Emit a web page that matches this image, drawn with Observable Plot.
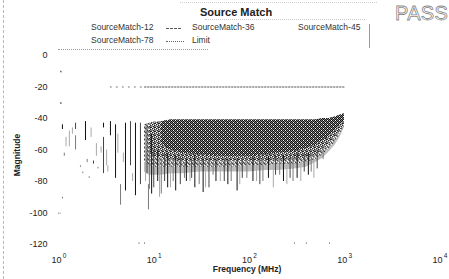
<!DOCTYPE html>
<html><head><meta charset="utf-8">
<script src="https://cdn.jsdelivr.net/npm/d3@7"></script>
<script src="https://cdn.jsdelivr.net/npm/@observablehq/plot@0.6"></script>
<style>
html,body{margin:0;padding:0;background:#fff;}
#wrap{position:relative;width:449px;height:279px;overflow:hidden;font-family:"Liberation Sans",Arial,sans-serif;color:#222;}
#wrap svg{position:absolute;left:0;top:0;}
.t{position:absolute;white-space:nowrap;line-height:1;}
#title{left:200px;top:7px;font-size:11px;font-weight:bold;}
#pass{left:395px;top:3px;font-size:20px;color:#fff;-webkit-text-stroke:0.8px #8a8a8a;letter-spacing:0.3px;}
.lg{font-size:8.5px;color:#333;}
#ylab{left:17px;top:155px;font-size:8.5px;font-weight:bold;transform:translate(-50%,-50%) rotate(-90deg);transform-origin:center;}
#xlab{left:247px;top:265px;font-size:8.5px;font-weight:bold;transform:translateX(-50%);}
.ln{position:absolute;height:0;width:0;}
</style></head>
<body><div id="wrap">
<div class="ln" style="left:3px;top:0;height:279px;border-left:1px dashed #b8b8b8;"></div>
<div class="ln" style="left:180px;top:2px;width:197px;border-top:1px dotted #d0d0d0;"></div>
<div class="ln" style="left:205px;top:19px;width:160px;border-top:1px dotted #c8c8c8;"></div>
<div class="ln" style="left:58px;top:49px;width:150px;border-top:1px dotted #999;"></div>
<div class="ln" style="left:369px;top:24px;height:24px;border-left:1px solid #9a9a9a;"></div>
<div class="t" id="title">Source Match</div>
<div class="t" id="pass">PASS</div>
<div class="t lg" style="left:91px;top:23px;">SourceMatch-12</div>
<div class="ln" style="left:166px;top:28px;width:15px;border-top:1px dashed #555;"></div>
<div class="t lg" style="left:192px;top:23px;">SourceMatch-36</div>
<div class="t lg" style="left:298px;top:23px;">SourceMatch-45</div>
<div class="t lg" style="left:91px;top:36px;">SourceMatch-78</div>
<div class="ln" style="left:166px;top:41px;width:18px;border-top:1px dotted #666;"></div>
<div class="t lg" style="left:192px;top:36px;">Limit</div>
<div class="t" id="ylab">Magnitude</div>
<div class="t" id="xlab">Frequency (MHz)</div>
</div>
<script>
const seriesNames = ["SourceMatch-12","SourceMatch-36","SourceMatch-45","SourceMatch-78"];
const yTicks = [0,-20,-40,-60,-80,-100,-120];
const xExponents = [0,1,2,3,4];

const freq   = [8,9,10,12,15,20,30,50,70,100,150,200,300,400,500,600,700,800,900,1000];
const sm12Hi = [null,null,null,-42,-41,-41,-41,-41,-41,-41,-41,-41,-41,-41,-41,-40,-40,-39,-38,-37];
const sm12Lo = [null,null,null,-56,-60,-62,-63,-64,-64,-64,-63,-62,-61,-59,-57,-54,-51,-48,-44,-42];
const sm36Hi = [null,-44,-43,-42,-41,-41,-41,-41,-41,-41,-41,-41,-41,-41,-41,-40,-40,-39,-38,-37];
const sm36Lo = [null,-62,-64,-65,-66,-67,-67,-67,-67,-67,-67,-66,-66,-65,-63,-60,-56,-52,-48,-44];
const sm45Hi = [-44,-43,-42,-42,-42,-42,-42,-42,-42,-42,-42,-42,-42,-42,-42,-41,-41,-40,-39,-38];
const sm45Lo = [-68,-70,-71,-71,-71,-71,-71,-71,-71,-70,-70,-69,-69,-68,-66,-63,-59,-55,-50,-45];
const sm78Hi = [-45,-44,-43,-43,-43,-43,-43,-43,-43,-43,-43,-43,-43,-43,-43,-42,-42,-41,-40,-39];
const sm78Lo = [-74,-76,-76,-76,-75,-75,-74,-74,-74,-74,-73,-73,-72,-71,-68,-65,-61,-57,-52,-46];

// spikes: [freq, top, bottom]
const sm12Spikes = [[1.06,-10,-11],[1.06,-30,-31],[1.1,-44,-47],[1.92,-42,-54],[2.97,-43,-46],[3.51,-42,-51],[3.97,-44,-78],[5.05,-43,-86],[6.43,-43,-89],[9.5,-50,-88],[11,-60,-80],[14,-62,-84],[17,-64,-86],[22,-66,-80],[27,-64,-84],[33,-66,-87],[45,-66,-80],[60,-66,-82],[75,-66,-86],[110,-64,-80],[160,-64,-78],[230,-64,-80],[320,-62,-78],[420,-62,-76]];
const sm36Spikes = [[1.51,-43,-47],[2.33,-67,-69],[2.97,-52,-75],[5.7,-42,-70],[7.25,-43,-82],[8.5,-44,-75],[10,-60,-84],[13,-62,-80],[19,-64,-82],[25,-66,-78],[38,-66,-84],[55,-66,-80],[85,-66,-78],[130,-64,-82],[190,-64,-76],[270,-64,-78],[380,-62,-74],[520,-60,-72]];
const sm45Spikes = [[1.1,-90,-91],[1.15,-62,-64],[1.51,-51,-60],[1.7,-70,-71],[1.8,-74,-75],[2.0,-66,-68],[2.1,-77,-78],[2.6,-71,-72],[4.48,-82,-95],[8.8,-82,-98],[9,-60,-85],[12,-66,-88],[16,-66,-80],[21,-68,-78],[30,-66,-82],[42,-68,-76],[65,-68,-80],[95,-66,-78],[140,-66,-80],[210,-66,-76],[290,-64,-80],[450,-62,-74],[600,-58,-66]];
const sm78Spikes = [[1.0,-100,-101],[1.04,-100,-101],[1.2,-52,-58],[1.3,-48,-58],[1.4,-46,-50],[2.2,-46,-52],[2.5,-56,-64],[2.8,-58,-62],[3.2,-60,-70],[3.3,-70,-74],[4.2,-50,-62],[4.8,-62,-68],[6.0,-75,-80],[8.2,-50,-80],[11.5,-66,-90],[15,-70,-84],[24,-70,-80],[35,-70,-84],[50,-70,-80],[80,-70,-82],[120,-70,-80],[180,-70,-84],[250,-70,-82],[350,-68,-80],[480,-66,-78]];
const limitFreq = [3.5,8,1000];
const limitVal  = [-20,-20,-20];
const minorTicks = [7,8,300,400,700];

const band = (hi,lo)=>freq.map((f,i)=>({f,hi:hi[i],lo:lo[i]}));
const spikes = arr=>arr.map(([f,t,b])=>({f,t,b}));
const limitRows = limitFreq.map((f,i)=>({f,v:limitVal[i]}));

const chart = Plot.plot({
  width:449, height:279,
  marginLeft:58, marginRight:10, marginTop:55, marginBottom:35,
  style:{fontFamily:"Liberation Sans, Arial, sans-serif", background:"transparent", overflow:"visible"},
  x:{type:"log", domain:[1,10000], axis:null},
  y:{domain:[-120,0], axis:null},
  marks:[
    Plot.areaY(band(sm78Hi,sm78Lo),{x:"f",y1:"lo",y2:"hi",fill:"#bdbdbd"}),
    Plot.areaY(band(sm45Hi,sm45Lo),{x:"f",y1:"lo",y2:"hi",fill:"url(#ditherL)"}),
    Plot.areaY(band(sm36Hi,sm36Lo),{x:"f",y1:"lo",y2:"hi",fill:"url(#ditherM)"}),
    Plot.areaY(band(sm12Hi,sm12Lo),{x:"f",y1:"lo",y2:"hi",fill:"url(#ditherD)"}),
    Plot.ruleX(spikes(sm78Spikes),{x:"f",y1:"t",y2:"b",stroke:"#a8a8a8",strokeWidth:1}),
    Plot.ruleX(spikes(sm45Spikes),{x:"f",y1:"t",y2:"b",stroke:"#7a7a7a",strokeWidth:1}),
    Plot.ruleX(spikes(sm36Spikes),{x:"f",y1:"t",y2:"b",stroke:"#444",strokeWidth:1}),
    Plot.ruleX(spikes(sm12Spikes),{x:"f",y1:"t",y2:"b",stroke:"#111",strokeWidth:1}),
    Plot.line(limitRows.slice(0,2),{x:"f",y:"v",stroke:"#777",strokeWidth:1,strokeDasharray:"1,5"}),
    Plot.line(limitRows.slice(1),{x:"f",y:"v",stroke:"#555",strokeWidth:1,strokeDasharray:"1.5,1.5"}),
    Plot.ruleX(minorTicks,{x:d=>d,y1:-120,y2:-118.8,stroke:"#999"}),
    Plot.text(yTicks,{x:1,y:d=>d,text:d=>String(d),textAnchor:"end",dx:-11,fontSize:9,fill:"#222"}),
    Plot.text(xExponents,{x:d=>10**d,y:-120,text:()=>"10",dy:16,dx:-2,fontSize:9,fill:"#222"}),
    Plot.text(xExponents,{x:d=>10**d,y:-120,text:d=>String(d),dy:11,dx:6,fontSize:6.5,fill:"#222"})
  ]
});
// dither textures used as fills
const defs = d3.select(chart).insert("defs",":first-child");
function dither(id,bg,dark,light,dk,lt){
  const p = defs.append("pattern").attr("id",id).attr("width",4).attr("height",4).attr("patternUnits","userSpaceOnUse");
  p.append("rect").attr("width",4).attr("height",4).attr("fill",bg);
  dk.forEach(([x,y])=>p.append("rect").attr("x",x).attr("y",y).attr("width",1).attr("height",1).attr("fill",dark));
  lt.forEach(([x,y])=>p.append("rect").attr("x",x).attr("y",y).attr("width",1).attr("height",1).attr("fill",light));
}
dither("ditherD","#7e7e7e","#111","#fff",[[0,0],[2,0],[1,1],[3,1],[0,2],[2,2],[1,3],[3,3]],[[3,0],[1,2]]);
dither("ditherM","#8a8a8a","#222","#fff",[[0,0],[2,1],[1,2],[3,3],[2,3]],[[3,0],[1,1],[0,3]]);
dither("ditherL","#a0a0a0","#444","#fff",[[1,0],[3,2],[0,3]],[[0,1],[2,2],[3,0]]);
document.getElementById("wrap").prepend(chart);
</script>
</body></html>
